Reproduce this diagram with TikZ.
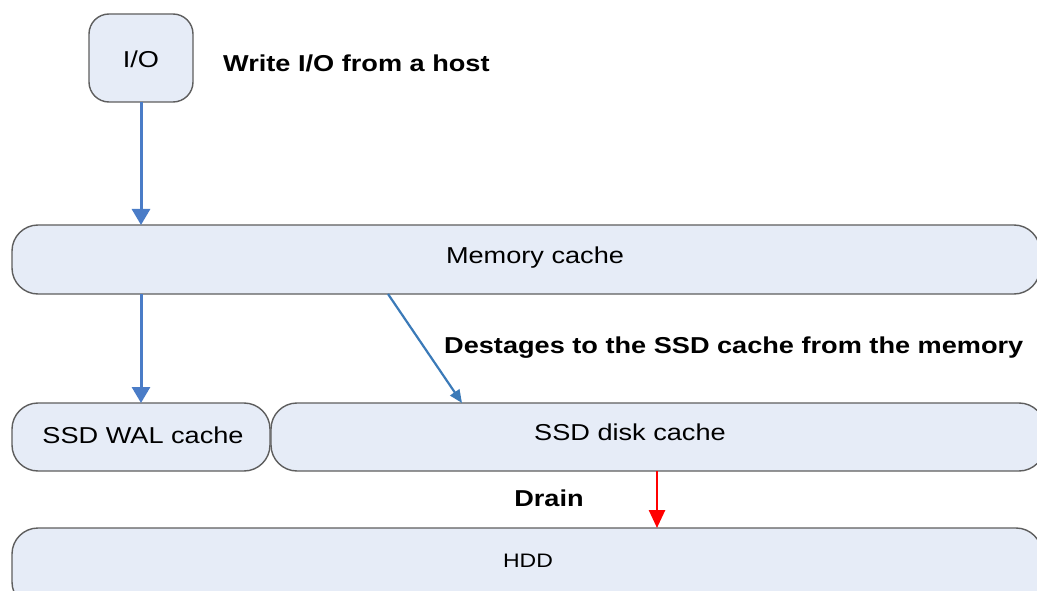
\documentclass[tikz,border=0pt]{standalone}
\usepackage{fontspec}
\setmainfont{Liberation Sans}[FakeStretch=1.18]
\usetikzlibrary{arrows.meta,calc}
\definecolor{boxfill}{HTML}{E6ECF7}
\definecolor{boxline}{HTML}{5E5E5E}
\definecolor{flowblue}{HTML}{4A7CC7}
\definecolor{destageblue}{HTML}{3B7AB8}
\definecolor{drainred}{HTML}{FF0000}
\tikzset{
  layer/.style={draw=boxline, fill=boxfill, line width=1.4pt, rounded corners=26pt,
    inner sep=0pt, outer sep=0pt},
  txt/.style={font=\fontsize{23}{27}\selectfont, inner sep=0pt},
  lbl/.style={font=\fontsize{23}{27}\selectfont\bfseries, inner sep=0pt},
  flow/.style={flowblue, line width=3pt, -{Triangle[width=18pt,length=16pt]}},
  destage/.style={destageblue, line width=2.2pt, -{Triangle[width=11pt,length=13pt]}},
  drain/.style={drainred, line width=2.6pt, -{Triangle[width=16pt,length=18pt]}}
}
\begin{document}
\begin{tikzpicture}[x=1pt,y=-1pt]
  \useasboundingbox (0,0) rectangle (1037,591);
  \clip (0,0) rectangle (1037,591);

  % storage layers
  \node[layer, rounded corners=20pt, minimum width=104pt, minimum height=88pt] (io) at (141,58) {};
  \node[layer, minimum width=1028pt, minimum height=69pt] (mem) at (526,259.5) {};
  \node[layer, minimum width=258pt, minimum height=68pt] (wal) at (141,437) {};
  \node[layer, minimum width=774pt, minimum height=68pt] (disk) at (658,437) {};
  \node[layer, minimum width=1030pt, minimum height=80pt] (hdd) at (527,568) {};

  % layer names
  \node[txt] (iot) at (141,59) {I/O};
  \node[txt] (memt) at (535,258) {Memory cache};
  \node[txt] (walt) at (143,435) {SSD WAL cache};
  \node[txt] (diskt) at (630,432) {SSD disk cache};
  \node[txt, font=\fontsize{19.5}{23}\selectfont] (hddt) at (528,561) {HDD};

  % annotations
  \node[lbl, anchor=west] (write) at (223,63) {Write I/O from a host};
  \node[lbl, anchor=west] (dest) at (444,348) {Destages to the SSD cache from the memory};
  \node[lbl] (drainl) at (549,498) {Drain};

  % data paths
  \draw[flow] (io.south) -- (io.south |- mem.north);
  \draw[flow] (wal.north |- mem.south) -- (wal.north);
  \coordinate (dsrc) at (388,294);
  \coordinate (ddst) at (462,403);
  \draw[destage] (dsrc) -- (ddst);
  \coordinate (rsrc) at (657,471);
  \draw[drain] (rsrc) -- (rsrc |- hdd.north);
\end{tikzpicture}
\end{document}
